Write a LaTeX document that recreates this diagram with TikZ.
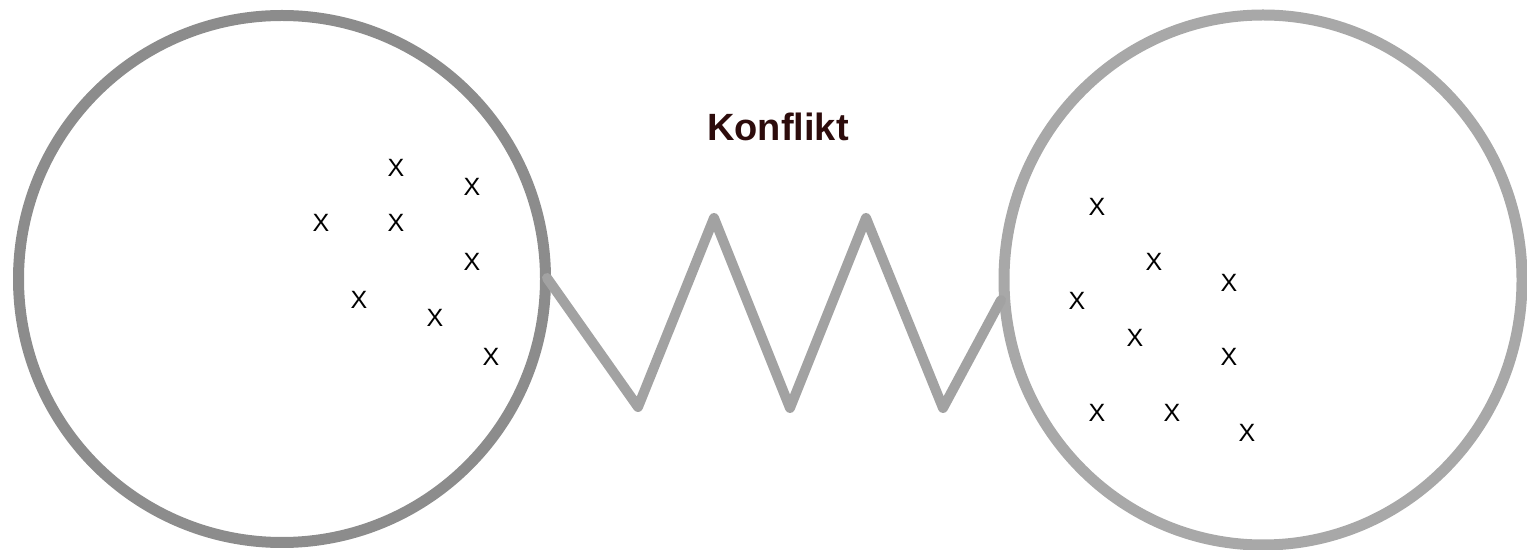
\documentclass[tikz,border=0pt]{standalone}
\usepackage{fontspec}
\setmainfont{Liberation Sans}
\usepackage{tikz}
\usetikzlibrary{shapes.geometric}
\definecolor{leftring}{RGB}{140,140,140}
\definecolor{rightring}{RGB}{168,168,168}
\definecolor{springgray}{RGB}{162,162,162}
\definecolor{titlered}{RGB}{45,12,12}
\tikzset{
  group/.style={inner sep=0pt,outer sep=0pt},
  member/.style={inner sep=0pt,font=\fontsize{12.5}{14}\selectfont}
}

\begin{document}
\begin{tikzpicture}[x=0.5pt,y=-0.5pt]
  \useasboundingbox (0,0) rectangle (1527,550);
  % the two groups
  \node[group,circle,draw=leftring,line width=5.5pt,minimum size=263.5pt] (left) at (282,279) {};
  \node[group,ellipse,draw=rightring,line width=5.5pt,minimum width=259pt,minimum height=265pt] (right) at (1263,280) {};
  % spring between them
  \coordinate (s0) at (547,278);
  \coordinate (s1) at (638,407);
  \coordinate (s2) at (714,218);
  \coordinate (s3) at (790,408);
  \coordinate (s4) at (866,218);
  \coordinate (s5) at (943,408);
  \coordinate (s6) at (1001,300);
  \draw[springgray,line width=5pt,line join=round,line cap=round]
    (s0)--(s1)--(s2)--(s3)--(s4)--(s5)--(s6);
  \node[titlered,font=\fontsize{19}{22}\selectfont\bfseries] (title) at (778,127) {Konflikt};
  % members, left group
  \node[member] (l1) at (396,168) {X};
  \node[member] (l2) at (472,187) {X};
  \node[member] (l3) at (321,223) {X};
  \node[member] (l4) at (396,223) {X};
  \node[member] (l5) at (472,262) {X};
  \node[member] (l6) at (359,300) {X};
  \node[member] (l7) at (435,318) {X};
  \node[member] (l8) at (491,357) {X};
  % members, right group
  \node[member] (r1) at (1097,207) {X};
  \node[member] (r2) at (1154,262) {X};
  \node[member] (r3) at (1229,283) {X};
  \node[member] (r4) at (1077,301) {X};
  \node[member] (r5) at (1135,338) {X};
  \node[member] (r6) at (1229,357) {X};
  \node[member] (r7) at (1097,413) {X};
  \node[member] (r8) at (1172,413) {X};
  \node[member] (r9) at (1247,433) {X};
\end{tikzpicture}
\end{document}
